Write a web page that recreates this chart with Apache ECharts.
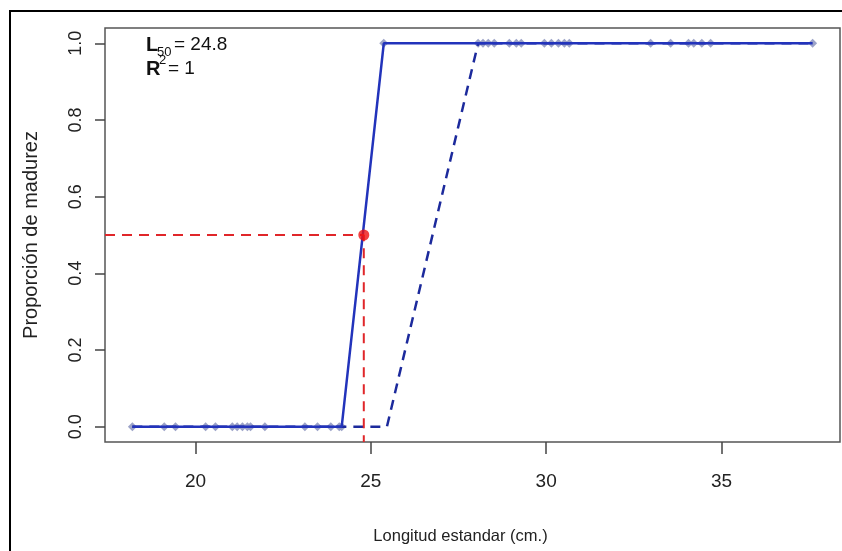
<!DOCTYPE html>
<html>
<head>
<meta charset="utf-8">
<script src="https://cdn.jsdelivr.net/npm/echarts@6/dist/echarts.min.js"></script>
<style>
  html, body { margin: 0; padding: 0; background: #fff; }
  #chart { width: 842px; height: 551px; }
</style>
</head>
<body>
<div id="chart"></div>
<script>
// Standard length (cm) of immature fish (proportion mature = 0)
const immatureLengths = [18.2, 19.11, 19.43, 20.29, 20.57, 21.05, 21.19, 21.34, 21.48, 21.57,
  21.98, 23.12, 23.48, 23.86, 24.1, 24.17];
// Standard length (cm) of mature fish (proportion mature = 1)
const matureLengths = [25.37, 28.06, 28.2, 28.35, 28.52, 28.95, 29.15, 29.29, 29.95, 30.15,
  30.35, 30.52, 30.66, 32.98, 33.55, 34.06, 34.21, 34.44, 34.69, 37.6];

// Fitted maturity ogive (solid) and comparison curve (dashed)
const ogiveX = [18.2, 24.17, 25.37, 37.6];
const ogiveY = [0, 0, 1, 1];
const altX = [18.2, 25.46, 28.06, 37.6];
const altY = [0, 0, 1, 1];

// Length at 50% maturity and fit quality
const L50 = 24.8;
const P50 = 0.5;
const R2 = 1;

// Axis ranges and tick labels
const xMin = 17.42, xMax = 38.38;
const yMin = -0.04, yMax = 1.04;
const xTicks = [20, 25, 30, 35];
const yTicks = [0, 0.2, 0.4, 0.6, 0.8, 1.0];

const pts0 = immatureLengths.map(x => [x, 0]);
const pts1 = matureLengths.map(x => [x, 1]);
const zip = (xs, ys) => xs.map((x, i) => [x, ys[i]]);

const FONT = 'Liberation Sans, Arial, sans-serif';

const chart = echarts.init(document.getElementById('chart'));
chart.setOption({
  animation: false,
  backgroundColor: '#ffffff',
  grid: {
    left: 105, right: 2, top: 28, bottom: 109,
    show: true, borderColor: '#555', borderWidth: 1.5, backgroundColor: 'transparent'
  },
  xAxis: {
    type: 'value', min: xMin, max: xMax,
    axisLine: { show: false, onZero: false },
    splitLine: { show: false },
    axisTick: { show: true, inside: false, length: 12, customValues: xTicks,
      lineStyle: { color: '#444', width: 1.5 } },
    axisLabel: { customValues: xTicks, margin: 30, color: '#222',
      fontFamily: FONT, fontSize: 19 },
    name: 'Longitud estandar (cm.)', nameLocation: 'middle', nameGap: 86,
    nameTextStyle: { color: '#222', fontFamily: FONT, fontSize: 16.5, padding: [0, 24, 0, 0] }
  },
  yAxis: {
    type: 'value', min: yMin, max: yMax,
    axisLine: { show: false, onZero: false },
    splitLine: { show: false },
    axisTick: { show: true, inside: false, length: 10, customValues: yTicks,
      lineStyle: { color: '#444', width: 1.5 } },
    axisLabel: { customValues: yTicks, rotate: 90, margin: 20, color: '#222',
      fontFamily: FONT, fontSize: 18,
      formatter: v => v.toFixed(1) },
    name: 'Proporción de madurez', nameLocation: 'middle', nameGap: 64,
    nameTextStyle: { color: '#222', fontFamily: FONT, fontSize: 20 }
  },
  series: [
    {
      type: 'scatter', data: pts0.concat(pts1), symbol: 'diamond', symbolSize: 9,
      itemStyle: { color: '#9199c2', opacity: 0.9 }, z: 1
    },
    {
      type: 'line', data: zip(altX, altY), symbol: 'none', z: 2,
      lineStyle: { color: '#1c2a9c', width: 2.5, type: [10, 7] }
    },
    {
      type: 'line', data: zip(ogiveX, ogiveY), symbol: 'none', z: 3,
      lineStyle: { color: '#2233bb', width: 2.5 }
    },
    {
      type: 'line', data: [[xMin, P50], [L50, P50], [L50, yMin]], symbol: 'none', z: 4,
      lineStyle: { color: '#e0262a', width: 2, type: [10, 7] }
    },
    {
      type: 'scatter', data: [[L50, P50]], symbol: 'circle', symbolSize: 11, z: 5,
      itemStyle: { color: '#ee1111' }
    }
  ],
  graphic: [
    { type: 'rect', shape: { x: 10, y: 11, width: 900, height: 600 }, silent: true,
      style: { fill: 'none', stroke: '#000', lineWidth: 2 } },
    { type: 'text', left: 146, top: 35, style: { text: 'L', fontWeight: 'bold', fontSize: 20,
      fontFamily: FONT, fill: '#111' } },
    { type: 'text', left: 157, top: 46, style: { text: '50', fontSize: 13,
      fontFamily: FONT, fill: '#111' } },
    { type: 'text', left: 174, top: 35, style: { text: '= ' + L50.toFixed(1), fontSize: 19,
      fontFamily: FONT, fill: '#111' } },
    { type: 'text', left: 146, top: 59, style: { text: 'R', fontWeight: 'bold', fontSize: 20,
      fontFamily: FONT, fill: '#111' } },
    { type: 'text', left: 159, top: 54, style: { text: '2', fontSize: 13,
      fontFamily: FONT, fill: '#111' } },
    { type: 'text', left: 168, top: 59, style: { text: '= ' + R2, fontSize: 19,
      fontFamily: FONT, fill: '#111' } }
  ]
});
</script>
</body>
</html>
